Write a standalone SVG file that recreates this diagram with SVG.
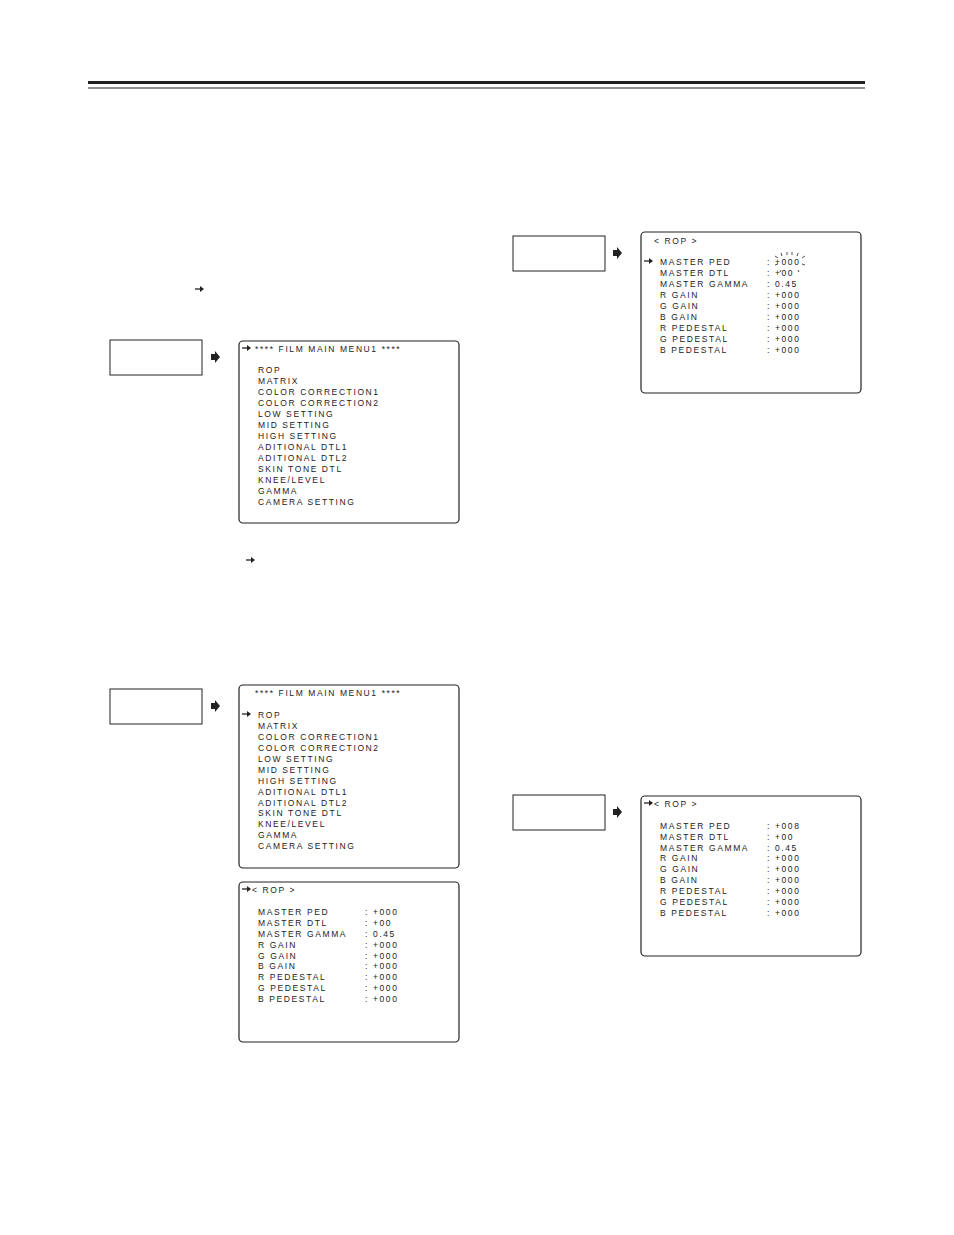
<svg xmlns="http://www.w3.org/2000/svg" width="954" height="1235" viewBox="0 0 954 1235">
<style>
.s{fill:none;stroke:#222;stroke-width:1.2}
.b{fill:none;stroke:#222;stroke-width:1}
text{font-family:"Liberation Sans",Arial,sans-serif;font-size:8.5px;letter-spacing:1.6px;fill:#222}
</style>
<defs>
<path id="fa" d="M-4,-3 L0,-3 L0,-6 L5,0 L0,6 L0,3 L-4,3 Z" fill="#222"/>
<g id="sa"><path d="M-5,0 H2" stroke="#222" stroke-width="1.3"/><path d="M0,-3 L4,0 L0,3 Z" fill="#222"/></g>
</defs>
<rect x="88" y="81" width="777" height="3" fill="#222"/>
<rect x="88" y="87.5" width="777" height="1" fill="#222"/>
<g id="connectors">
<use href="#sa" x="200" y="289"/>
<use href="#sa" x="251" y="560"/>
<use href="#fa" x="215" y="357"/>
<use href="#fa" x="215" y="706"/>
<use href="#fa" x="617" y="253"/>
<use href="#fa" x="617" y="812"/>
</g>
<g id="k1"><rect class="b" x="110" y="340" width="92" height="35"/></g>
<g id="k2"><rect class="b" x="110" y="689" width="92" height="35"/></g>
<g id="k3"><rect class="b" x="513" y="236" width="92" height="35"/></g>
<g id="k4"><rect class="b" x="513" y="795" width="92" height="35"/></g>
<g id="menu1">
<rect class="s" x="239" y="341" width="220" height="182" rx="4"/>
<use href="#sa" x="247" y="348"/>
<text x="255" y="352">**** FILM MAIN MENU1 ****</text>
<text x="258" y="373">ROP</text><text x="258" y="384">MATRIX</text><text x="258" y="395">COLOR CORRECTION1</text><text x="258" y="406">COLOR CORRECTION2</text><text x="258" y="417">LOW SETTING</text><text x="258" y="428">MID SETTING</text><text x="258" y="439">HIGH SETTING</text><text x="258" y="450">ADITIONAL DTL1</text><text x="258" y="461">ADITIONAL DTL2</text><text x="258" y="472">SKIN TONE DTL</text><text x="258" y="483">KNEE/LEVEL</text><text x="258" y="494">GAMMA</text><text x="258" y="505">CAMERA SETTING</text>
</g>
<g id="menu2">
<rect class="s" x="239" y="685" width="220" height="183" rx="4"/>
<text x="255" y="696">**** FILM MAIN MENU1 ****</text>
<use href="#sa" x="247" y="714"/>
<text x="258" y="718">ROP</text><text x="258" y="729">MATRIX</text><text x="258" y="740">COLOR CORRECTION1</text><text x="258" y="751">COLOR CORRECTION2</text><text x="258" y="762">LOW SETTING</text><text x="258" y="773">MID SETTING</text><text x="258" y="784">HIGH SETTING</text><text x="258" y="795">ADITIONAL DTL1</text><text x="258" y="806">ADITIONAL DTL2</text><text x="258" y="816">SKIN TONE DTL</text><text x="258" y="827">KNEE/LEVEL</text><text x="258" y="838">GAMMA</text><text x="258" y="849">CAMERA SETTING</text>
</g>
<g id="rop1">
<rect class="s" x="239" y="882" width="220" height="160" rx="4"/>
<use href="#sa" x="247" y="889"/>
<text x="252" y="893">&lt; ROP &gt;</text>
<text x="258" y="915">MASTER PED</text><text x="365" y="915">: +000</text>
<text x="258" y="926">MASTER DTL</text><text x="365" y="926">: +00</text>
<text x="258" y="937">MASTER GAMMA</text><text x="365" y="937">: 0.45</text>
<text x="258" y="948">R GAIN</text><text x="365" y="948">: +000</text>
<text x="258" y="959">G GAIN</text><text x="365" y="959">: +000</text>
<text x="258" y="969">B GAIN</text><text x="365" y="969">: +000</text>
<text x="258" y="980">R PEDESTAL</text><text x="365" y="980">: +000</text>
<text x="258" y="991">G PEDESTAL</text><text x="365" y="991">: +000</text>
<text x="258" y="1002">B PEDESTAL</text><text x="365" y="1002">: +000</text>
</g>
<g id="rop2">
<rect class="s" x="641" y="232" width="220" height="161" rx="4"/>
<text x="654" y="244">&lt; ROP &gt;</text>
<use href="#sa" x="649" y="261"/>
<text x="660" y="265">MASTER PED</text><text x="767" y="265">: +000</text>
<text x="660" y="276">MASTER DTL</text><text x="767" y="276">: +00</text>
<text x="660" y="287">MASTER GAMMA</text><text x="767" y="287">: 0.45</text>
<text x="660" y="298">R GAIN</text><text x="767" y="298">: +000</text>
<text x="660" y="309">G GAIN</text><text x="767" y="309">: +000</text>
<text x="660" y="320">B GAIN</text><text x="767" y="320">: +000</text>
<text x="660" y="331">R PEDESTAL</text><text x="767" y="331">: +000</text>
<text x="660" y="342">G PEDESTAL</text><text x="767" y="342">: +000</text>
<text x="660" y="353">B PEDESTAL</text><text x="767" y="353">: +000</text>
<g stroke="#222" stroke-width="0.8"><path d="M778,258 l-3,-2 M782,256 l-1,-3 M787,255 v-3 M792,255 v-3 M797,256 l1,-3 M802,258 l3,-2 M778,264 l-3,1 M802,264 l3,1 M781,270 l-1,2 M798,270 l1,2"/></g>
</g>
<g id="rop3">
<rect class="s" x="641" y="796" width="220" height="160" rx="4"/>
<use href="#sa" x="649" y="803"/>
<text x="654" y="807">&lt; ROP &gt;</text>
<text x="660" y="829">MASTER PED</text><text x="767" y="829">: +008</text>
<text x="660" y="840">MASTER DTL</text><text x="767" y="840">: +00</text>
<text x="660" y="851">MASTER GAMMA</text><text x="767" y="851">: 0.45</text>
<text x="660" y="861">R GAIN</text><text x="767" y="861">: +000</text>
<text x="660" y="872">G GAIN</text><text x="767" y="872">: +000</text>
<text x="660" y="883">B GAIN</text><text x="767" y="883">: +000</text>
<text x="660" y="894">R PEDESTAL</text><text x="767" y="894">: +000</text>
<text x="660" y="905">G PEDESTAL</text><text x="767" y="905">: +000</text>
<text x="660" y="916">B PEDESTAL</text><text x="767" y="916">: +000</text>
</g>
</svg>
